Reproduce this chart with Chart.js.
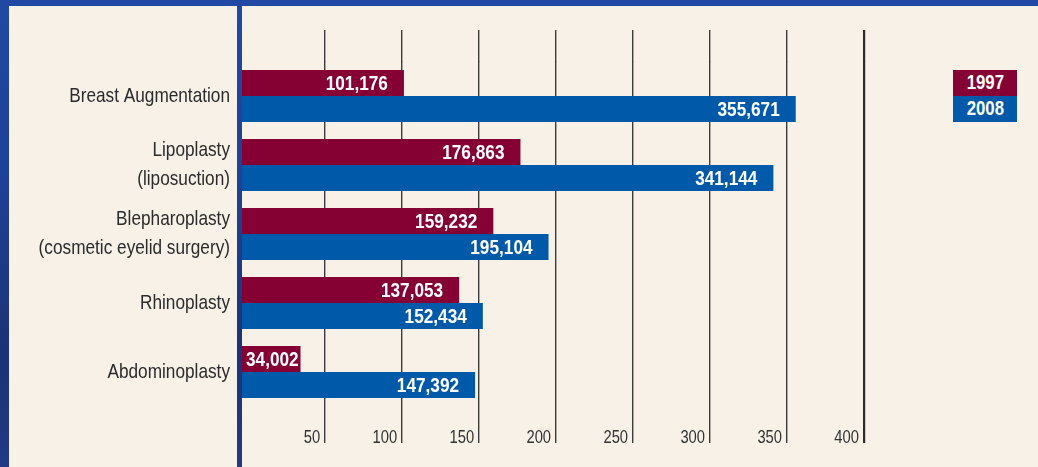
<!DOCTYPE html>
<html>
<head>
<meta charset="utf-8">
<script src="https://cdn.jsdelivr.net/npm/chart.js@4"></script>
<style>
  html, body { margin: 0; padding: 0; }
  body {
    width: 1038px; height: 467px; overflow: hidden; position: relative;
    background: linear-gradient(180deg, #2147a0 0%, #2042946 40%, #1c3276 75%, #213a85 100%);
    background: linear-gradient(180deg, #2149a3 0%, #1f4096 40%, #1c3276 75%, #213a85 100%);
  }
  .panel { position: absolute; background: #f7f1e8; }
  #leftPanel { left: 9px; top: 6px; width: 228px; height: 461px; }
  #rightPanel { left: 242px; top: 6px; width: 796px; height: 461px; }
  #chart { position: absolute; left: 0; top: 0; }
  .leg {
    position: absolute; left: 953px; width: 64px; height: 26px; line-height: 27px;
    color: #fff; text-align: center;
    font: bold 21px "Liberation Sans", Arial, sans-serif;
  }
  .leg span { display: inline-block; transform: scaleX(0.8); }
</style>
</head>
<body>
<div class="panel" id="leftPanel"></div>
<div class="panel" id="rightPanel"></div>
<canvas id="chart" width="1038" height="467"></canvas>
<div class="leg" id="leg1997" style="top:70px;background:#850033;"><span id="legText0"></span></div>
<div class="leg" id="leg2008" style="top:96px;background:#005aa9;"><span id="legText1"></span></div>
<script>
const categories = [
  'Breast Augmentation',
  ['Lipoplasty', '(liposuction)'],
  ['Blepharoplasty', '(cosmetic eyelid surgery)'],
  'Rhinoplasty',
  'Abdominoplasty'
];
const series1997 = [101176, 176863, 159232, 137053, 34002];
const series2008 = [355671, 341144, 195104, 152434, 147392];
const seriesNames = ['1997', '2008'];
const xTickLabels = [50, 100, 150, 200, 250, 300, 350, 400]; // thousands

const COLOR_1997 = '#850033';
const COLOR_2008 = '#005aa9';
const FONT = '"Liberation Sans", Arial, sans-serif';
const NARROW_X = 0.82;   // horizontal squeeze to mimic a narrow typeface
const X_MIN = -4000, X_MAX = 400000;

document.getElementById('legText0').textContent = seriesNames[0];
document.getElementById('legText1').textContent = seriesNames[1];

function narrowText(ctx, txt, x, y) {
  ctx.save();
  ctx.translate(x, y);
  ctx.scale(NARROW_X, 1);
  ctx.fillText(txt, 0, 0);
  ctx.restore();
}

const textPlugin = {
  id: 'textPlugin',
  afterDatasetsDraw(chart) {
    const ctx = chart.ctx;
    const xs = chart.scales.x, ys = chart.scales.y;
    ctx.save();
    ctx.textBaseline = 'middle';

    // value labels inside bars
    ctx.font = 'bold 21px ' + FONT;
    ctx.fillStyle = '#ffffff';
    ctx.textAlign = 'right';
    chart.data.datasets.forEach((ds, di) => {
      const meta = chart.getDatasetMeta(di);
      meta.data.forEach((el, i) => {
        const txt = ds.data[i].toLocaleString('en-US');
        const w = ctx.measureText(txt).width * NARROW_X;
        const x = Math.max(el.x - 16, el.base + 4 + w);
        narrowText(ctx, txt, x, el.y + 1);
      });
    });

    // category labels
    ctx.font = '21px ' + FONT;
    ctx.fillStyle = '#2b2b2b';
    ctx.textAlign = 'right';
    const lh = 29;
    chart.data.labels.forEach((lab, i) => {
      const lines = Array.isArray(lab) ? lab : [lab];
      const cy = ys.getPixelForTick(i);
      lines.forEach((ln, k) => {
        const y = cy - (lines.length - 1) * lh / 2 + k * lh;
        narrowText(ctx, ln, ys.right - 12, y);
      });
    });

    // x tick labels
    ctx.font = '18px ' + FONT;
    ctx.fillStyle = '#333333';
    ctx.textAlign = 'right';
    xs.ticks.forEach(t => {
      const px = xs.getPixelForValue(t.value);
      narrowText(ctx, String(t.value / 1000), px - 5, 438);
    });
    ctx.restore();
  }
};

const setTicks = s => { s.ticks = xTickLabels.map(v => ({ value: v * 1000 })); };
const gridWidth = c => (c.tick && c.tick.value === X_MAX) ? 2.2 : 1.4;
const gridColor = c => (c.tick && c.tick.value === X_MAX) ? '#2a2a2a' : '#3c3c3c';

new Chart(document.getElementById('chart'), {
  type: 'bar',
  data: {
    labels: categories,
    datasets: [
      { label: seriesNames[0], data: series1997, backgroundColor: COLOR_1997, base: X_MIN },
      { label: seriesNames[1], data: series2008, backgroundColor: COLOR_2008, base: X_MIN }
    ]
  },
  options: {
    indexAxis: 'y',
    responsive: false,
    animation: false,
    devicePixelRatio: 1,
    layout: { padding: { top: 30, right: 174, bottom: 0, left: 0 } },
    datasets: { bar: { categoryPercentage: 0.754, barPercentage: 1.0 } },
    plugins: { legend: { display: false }, tooltip: { enabled: false } },
    scales: {
      x: {
        type: 'linear', position: 'bottom', min: X_MIN, max: X_MAX,
        afterBuildTicks: setTicks,
        afterFit: s => { s.height = 60.5; },
        border: { display: false },
        grid: { color: gridColor, lineWidth: gridWidth, tickLength: 36.5, drawTicks: true },
        ticks: { display: false, autoSkip: false, maxRotation: 0, minRotation: 0 }
      },
      x2: {
        type: 'linear', position: 'top', min: X_MIN, max: X_MAX,
        afterBuildTicks: setTicks,
        afterFit: s => { s.height = 31.5; },
        border: { display: false },
        grid: { color: gridColor, lineWidth: gridWidth, tickLength: 31.5, drawOnChartArea: false, drawTicks: true },
        ticks: { display: false }
      },
      y: {
        type: 'category',
        afterFit: s => { s.width = 242; },
        border: { display: false },
        grid: { display: false, drawTicks: false },
        ticks: { display: false }
      }
    }
  },
  plugins: [textPlugin]
});
</script>
</body>
</html>
